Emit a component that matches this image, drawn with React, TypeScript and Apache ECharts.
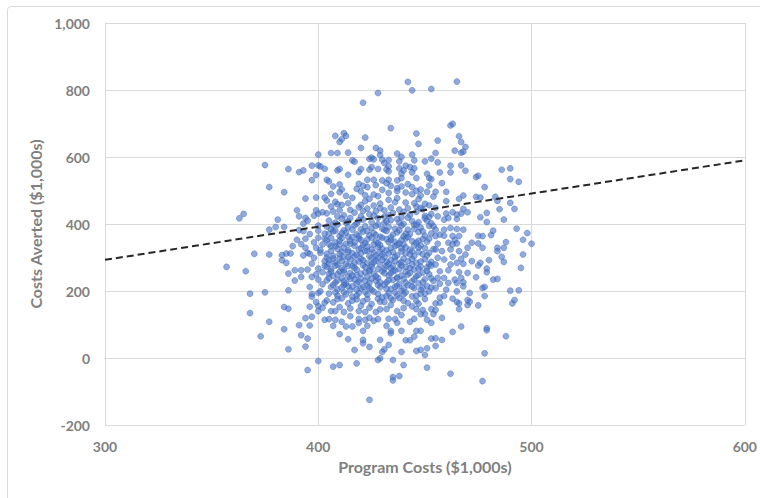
import React, { useEffect, useRef } from "react";
import * as echarts from "echarts";

// ---- Axis settings ----
const xMin = 300;
const xMax = 600;
const xStep = 100;
const yMin = -200;
const yMax = 1000;
const yStep = 200;
const xTitle = "Program Costs ($1,000s)";
const yTitle = "Costs Averted ($1,000s)";

// ---- Dashed reference line (endpoints) ----
const thresholdLine: [number, number][] = [
  [300, 293],
  [600, 590],
];

// ---- Scatter values ----
const topPoints: [number, number][] = [
  [375, 576], [386, 564], [391, 555], [393, 560], [397, 574], [400, 607], [400, 575], [401, 572], [403, 565], [399, 546], [397, 531],
  [442, 824], [444, 799], [453, 803], [428, 791], [421, 762], [434, 686], [408, 663], [412, 671], [413, 663], [411, 653], [410, 645],
  [422, 658], [446, 670], [447, 639], [420, 627], [427, 627], [429, 619], [406, 612], [409, 612], [414, 613], [429, 606], [437, 610],
  [444, 607], [453, 595], [416, 590], [417, 586], [424, 594], [425, 598], [426, 593], [430, 592], [433, 591], [431, 582], [439, 600],
  [438, 587], [445, 590], [450, 587], [409, 560], [410, 564], [414, 547], [419, 555], [420, 564], [424, 562], [425, 570], [428, 564],
  [432, 563], [433, 572], [433, 557], [438, 566], [441, 574], [443, 570], [440, 560], [445, 566], [439, 550], [439, 537], [444, 554],
  [446, 537], [451, 550], [452, 537], [453, 534], [423, 532], [426, 532], [430, 530], [433, 532], [437, 530], [404, 532], [405, 527],
  [465, 825], [462, 694], [463, 699], [456, 649], [466, 662], [467, 645], [469, 630], [464, 619], [467, 613], [468, 616], [455, 612],
  [456, 584], [462, 574], [467, 575], [457, 554], [462, 554], [469, 559], [474, 540], [475, 544], [486, 562], [490, 566], [490, 534],
  [494, 526], [458, 522],
];

const leftPoints: [number, number][] = [
  [377, 510], [384, 495], [394, 476], [399, 479], [403, 479], [365, 430], [363, 417], [390, 441], [391, 423], [394, 418], [395, 410],
  [393, 401], [399, 441], [400, 431], [398, 425], [402, 435], [381, 413], [380, 391], [384, 391], [377, 383], [391, 382], [393, 379],
  [400, 380], [403, 371], [400, 359], [403, 356], [394, 356], [390, 353], [392, 340], [388, 334], [394, 329], [399, 329], [402, 339],
  [370, 311], [377, 309], [383, 307], [385, 312], [387, 312], [383, 292], [385, 284], [393, 306], [395, 314], [396, 311], [398, 299],
  [401, 314], [403, 289], [357, 272], [366, 259], [386, 252], [389, 262], [392, 262], [395, 264], [400, 267], [402, 256], [392, 242],
  [389, 231], [397, 242], [400, 234], [368, 192], [375, 196], [386, 202], [397, 191], [400, 194], [401, 199],
  [396, 370], [398, 345], [401, 322], [397, 282], [403, 275], [399, 250], [402, 220], [396, 212], [404, 300], [400, 395],
];

const rightPoints: [number, number][] = [
  [478, 510], [455, 496], [460, 496], [468, 485], [466, 475], [474, 481], [476, 479], [483, 481], [484, 469], [490, 463], [460, 468],
  [455, 448], [456, 423], [460, 431], [461, 418], [463, 435], [465, 428], [467, 431], [468, 445], [470, 435], [465, 415], [459, 413],
  [476, 420], [479, 433], [479, 406], [485, 444], [487, 413], [492, 445], [454, 393], [455, 383], [459, 383], [462, 388], [465, 385],
  [468, 383], [482, 380], [493, 386], [498, 373], [496, 353], [500, 341], [475, 365], [477, 364], [481, 367], [455, 364], [457, 368],
  [459, 365], [463, 364], [464, 352], [466, 364], [456, 341], [461, 344], [463, 339], [465, 342], [470, 329], [472, 344], [475, 342],
  [477, 329], [484, 329], [488, 346], [487, 329], [484, 319], [455, 324], [458, 319], [462, 324], [466, 319], [469, 309], [486, 302],
  [487, 287], [496, 309], [456, 299], [459, 294], [463, 302], [467, 296], [472, 289], [476, 284], [480, 292], [455, 279], [462, 279],
  [465, 284], [468, 281], [475, 276], [479, 267], [495, 269], [457, 259], [461, 262], [466, 256], [470, 254], [479, 256], [474, 241],
  [482, 234], [484, 236], [456, 239], [459, 239], [464, 234], [467, 239], [468, 226], [457, 222], [461, 224], [465, 224], [468, 214],
  [455, 209], [460, 204], [465, 199], [471, 194], [477, 209], [478, 212], [490, 201], [494, 202],
];

const bottomPoints: [number, number][] = [
  [368, 134], [377, 108], [373, 65], [384, 152], [386, 147], [384, 86], [391, 98], [396, 97], [394, 119], [397, 123], [392, 68],
  [395, 58], [394, 34], [386, 26], [400, -9], [395, -36], [396, 153], [399, 167], [400, 140], [400, 155], [402, 150], [403, 165],
  [397, 183], [403, 114],
  [410, 71], [414, 56], [417, 24], [421, 54], [421, 44], [424, 33], [429, 54], [433, 39], [431, 26], [430, 18], [429, -1], [428, -6],
  [435, -6], [439, 18], [441, 53], [443, 53], [445, 64], [446, 81], [448, 81], [453, 58], [451, 29], [448, 24], [446, 21], [450, 9],
  [407, -26], [410, -21], [418, -16], [440, -21], [451, -29], [435, -57], [435, -67], [438, -54], [424, -125], [434, 74], [434, 81],
  [439, 81], [407, 96], [411, 108], [413, 94], [416, 94], [419, 105], [421, 81], [423, 96], [419, 116], [422, 114], [424, 120],
  [426, 111], [428, 116], [432, 96], [433, 117], [436, 116], [437, 105], [439, 128], [405, 116], [408, 114], [415, 125], [406, 140],
  [408, 140], [412, 137], [443, 108], [445, 117], [448, 131], [450, 131], [451, 114], [453, 105], [446, 146], [449, 143], [453, 146],
  [427, 137], [432, 146], [437, 140], [422, 137], [419, 140],
  [462, -47], [477, -69], [478, 14], [488, 65], [479, 89], [479, 83], [467, 94], [463, 78], [458, 120], [458, 54], [455, 59],
  [455, 36], [454, 131], [491, 163], [492, 173], [475, 157], [470, 158], [471, 168], [470, 173], [466, 163], [465, 167], [466, 146],
  [463, 177], [478, 185], [459, 185], [457, 180], [455, 163], [455, 143], [457, 165],
];

const corePoints: [number, number][] = [
  [407, 512], [410, 518], [418, 505], [419, 520], [423, 510], [427, 516], [430, 502], [432, 522], [434, 514], [437, 507], [442, 519], [444, 510], [448, 503], [452, 515],
  [406, 490], [410, 495], [413, 484], [420, 497], [422, 486], [426, 488], [433, 493], [437, 498], [441, 494], [448, 485], [451, 496], [454, 482],
  [404, 470], [408, 466], [414, 462], [422, 468], [424, 475], [429, 461], [433, 472], [437, 477], [441, 464], [447, 474], [450, 460],
  [406, 452], [411, 457], [415, 442], [419, 450], [423, 446], [426, 455], [431, 441], [434, 449], [438, 443], [442, 447], [446, 452], [449, 444], [452, 456],
  [404, 432], [407, 437], [412, 426], [417, 434], [420, 423], [424, 429], [427, 438], [431, 422], [435, 433], [439, 420], [443, 427], [446, 436], [450, 424], [453, 430],
  [405, 410], [408, 404], [411, 416], [414, 408], [418, 401], [421, 413], [425, 406], [428, 418], [431, 403], [434, 411], [437, 415], [440, 400], [444, 409], [447, 405], [450, 417], [453, 402],
  [404, 392], [406, 385], [409, 398], [412, 381], [414, 390], [417, 396], [420, 384], [422, 393], [425, 388], [428, 399], [431, 382], [433, 391], [436, 386], [439, 395], [442, 383], [445, 397], [448, 389], [452, 394],
  [405, 371], [407, 378], [410, 364], [413, 374], [416, 361], [418, 369], [421, 377], [424, 366], [426, 373], [429, 362], [432, 379], [435, 368], [437, 375], [440, 363], [443, 370], [447, 376], [450, 365], [453, 372],
  [404, 352], [408, 345], [411, 358], [413, 341], [415, 350], [419, 356], [422, 343], [423, 354], [427, 348], [430, 359], [433, 346], [434, 352], [438, 342], [441, 357], [444, 349], [446, 344], [449, 355], [451, 347],
  [406, 333], [409, 326], [410, 339], [414, 322], [417, 335], [420, 328], [421, 338], [425, 324], [428, 331], [429, 337], [432, 321], [436, 334], [439, 327], [440, 339], [443, 323], [447, 330], [448, 336], [454, 325],
  [404, 311], [407, 305], [411, 317], [412, 302], [416, 313], [418, 308], [422, 319], [424, 303], [426, 315], [430, 309], [431, 301], [435, 316], [437, 306], [441, 312], [444, 318], [445, 304], [449, 310], [452, 314],
  [405, 292], [408, 285], [410, 298], [413, 281], [415, 294], [419, 288], [420, 296], [423, 283], [427, 291], [428, 299], [432, 286], [434, 293], [438, 282], [440, 297], [442, 289], [446, 284], [450, 295], [453, 287],
  [404, 272], [406, 265], [409, 278], [412, 262], [416, 275], [417, 269], [421, 277], [424, 263], [425, 271], [429, 279], [431, 266], [435, 274], [436, 261], [439, 276], [443, 268], [445, 264], [448, 273], [451, 270],
  [405, 251], [407, 245], [410, 258], [414, 242], [415, 254], [418, 248], [422, 256], [423, 243], [426, 252], [430, 259], [433, 246], [434, 253], [437, 241], [441, 257], [442, 249], [446, 244], [449, 255], [452, 250],
  [404, 232], [408, 225], [411, 238], [413, 222], [417, 234], [419, 228], [420, 237], [424, 224], [427, 231], [428, 239], [432, 226], [435, 233], [438, 221], [440, 236], [444, 229], [447, 223], [450, 235], [454, 230],
  [406, 212], [409, 205], [412, 218], [415, 202], [416, 214], [420, 208], [423, 216], [425, 203], [429, 211], [431, 219], [434, 206], [436, 213], [439, 201], [442, 217], [445, 209], [448, 204], [451, 215], [453, 210],
  [405, 192], [409, 186], [412, 197], [416, 183], [419, 194], [423, 189], [426, 198], [430, 181], [433, 193], [437, 187], [441, 196], [444, 184], [448, 191], [452, 199],
  [404, 172], [407, 166], [411, 178], [414, 163], [418, 175], [421, 169], [425, 161], [428, 177], [431, 167], [435, 173], [438, 179], [442, 164], [446, 170], [450, 176],
  [410, 152], [415, 148], [420, 156], [424, 150], [429, 145], [434, 158], [440, 149], [444, 154],
];

// second, denser layer in the middle of the cloud
const innerPoints: [number, number][] = [
  [411, 503], [421, 514], [439, 512], [446, 499], [416, 478], [428, 483], [444, 489], [409, 459], [420, 457], [436, 465], [445, 462],
  [410, 441], [421, 439], [429, 447], [440, 436], [448, 448], [409, 423], [415, 418], [426, 425], [433, 426], [442, 419], [452, 421],
  [407, 397], [413, 404], [419, 411], [427, 394], [432, 408], [438, 404], [446, 398], [451, 410],
  [408, 380], [411, 372], [416, 383], [419, 364], [423, 379], [427, 367], [430, 386], [434, 360], [438, 381], [441, 371], [445, 385], [449, 378],
  [406, 358], [410, 350], [414, 362], [417, 345], [420, 352], [425, 359], [428, 343], [432, 355], [436, 347], [439, 352], [442, 361], [447, 350], [452, 356],
  [405, 340], [408, 334], [412, 329], [415, 341], [419, 324], [423, 333], [426, 339], [430, 326], [434, 329], [437, 338], [441, 330], [445, 336], [450, 328],
  [406, 320], [410, 310], [414, 316], [417, 303], [420, 312], [423, 320], [427, 306], [429, 316], [433, 312], [436, 302], [439, 318], [443, 309], [447, 316], [451, 306],
  [407, 297], [411, 289], [414, 300], [417, 284], [421, 292], [425, 298], [426, 285], [430, 293], [433, 281], [436, 290], [439, 286], [444, 295], [448, 288], [452, 280],
  [405, 282], [408, 276], [411, 268], [414, 275], [418, 264], [422, 271], [425, 279], [428, 265], [432, 275], [434, 268], [438, 265], [441, 272], [444, 279], [447, 267], [453, 276],
  [406, 258], [409, 250], [412, 255], [416, 246], [420, 252], [424, 259], [427, 244], [431, 253], [435, 259], [439, 246], [443, 254], [447, 248], [451, 260],
  [405, 239], [409, 232], [412, 228], [415, 236], [418, 222], [422, 230], [425, 237], [429, 226], [433, 232], [437, 238], [441, 225], [445, 235], [449, 226], [453, 238],
  [407, 218], [411, 210], [414, 214], [418, 204], [421, 213], [424, 209], [428, 218], [432, 207], [437, 215], [440, 208], [444, 213], [449, 209],
  [408, 196], [413, 190], [418, 186], [422, 197], [428, 191], [432, 185], [436, 196], [440, 190], [446, 186], [450, 192],
  [409, 176], [416, 171], [423, 176], [429, 168], [434, 178], [440, 171], [447, 162],
];

const GRAY = "#7f7f7f";
const GRID = "#d9d9d9";
const FONT = "Lato, 'Open Sans', sans-serif";

export default function App() {
  const ref = useRef<HTMLDivElement>(null);

  useEffect(() => {
    if (!ref.current) return;
    const chart = echarts.init(ref.current, null, { renderer: "svg" });
    const allPoints = [...topPoints, ...leftPoints, ...corePoints, ...innerPoints, ...rightPoints, ...bottomPoints];
    chart.setOption({
      animation: false,
      backgroundColor: "#ffffff",
      textStyle: { fontFamily: FONT },
      graphic: [
        {
          type: "rect",
          shape: { x: 7.5, y: 6.5, width: 820, height: 620, r: 4 },
          style: { fill: "none", stroke: GRID, lineWidth: 1 },
          silent: true,
          z: -10,
        },
      ],
      grid: { left: 105, right: 14, top: 23, bottom: 73, containLabel: false },
      xAxis: {
        type: "value",
        min: xMin,
        max: xMax,
        interval: xStep,
        name: xTitle,
        nameLocation: "middle",
        nameGap: 33,
        nameTextStyle: { color: GRAY, fontSize: 16, fontWeight: "bold", fontFamily: FONT },
        axisLine: { show: true, lineStyle: { color: GRID, width: 1 } },
        axisTick: { show: false },
        axisLabel: { color: GRAY, fontSize: 14, fontWeight: "bold", margin: 14, fontFamily: FONT },
        splitLine: { show: true, lineStyle: { color: GRID, width: 1 } },
      },
      yAxis: {
        type: "value",
        min: yMin,
        max: yMax,
        interval: yStep,
        name: yTitle,
        nameLocation: "middle",
        nameGap: 55,
        nameTextStyle: { color: GRAY, fontSize: 16, fontWeight: "bold", fontFamily: FONT },
        axisLine: { show: true, lineStyle: { color: GRID, width: 1 } },
        axisTick: { show: false },
        axisLabel: {
          color: GRAY,
          fontSize: 14,
          fontWeight: "bold",
          margin: 15,
          fontFamily: FONT,
          formatter: (v: number) => v.toLocaleString("en-US"),
        },
        splitLine: { show: true, lineStyle: { color: GRID, width: 1 } },
      },
      series: [
        {
          type: "scatter",
          data: allPoints,
          symbol: "circle",
          symbolSize: 6,
          itemStyle: {
            color: "rgba(68,114,196,0.75)",
            borderColor: "rgba(60,100,180,0.85)",
            borderWidth: 0.6,
          },
          z: 2,
        },
        {
          type: "line",
          data: thresholdLine,
          symbol: "none",
          lineStyle: { color: "#262626", width: 2, type: [7, 4] },
          z: 5,
        },
      ],
    });
    return () => chart.dispose();
  }, []);

  return (
    <div
      ref={ref}
      style={{ position: "fixed", left: 0, top: 0, width: 760, height: 498, background: "#fff" }}
    />
  );
}
